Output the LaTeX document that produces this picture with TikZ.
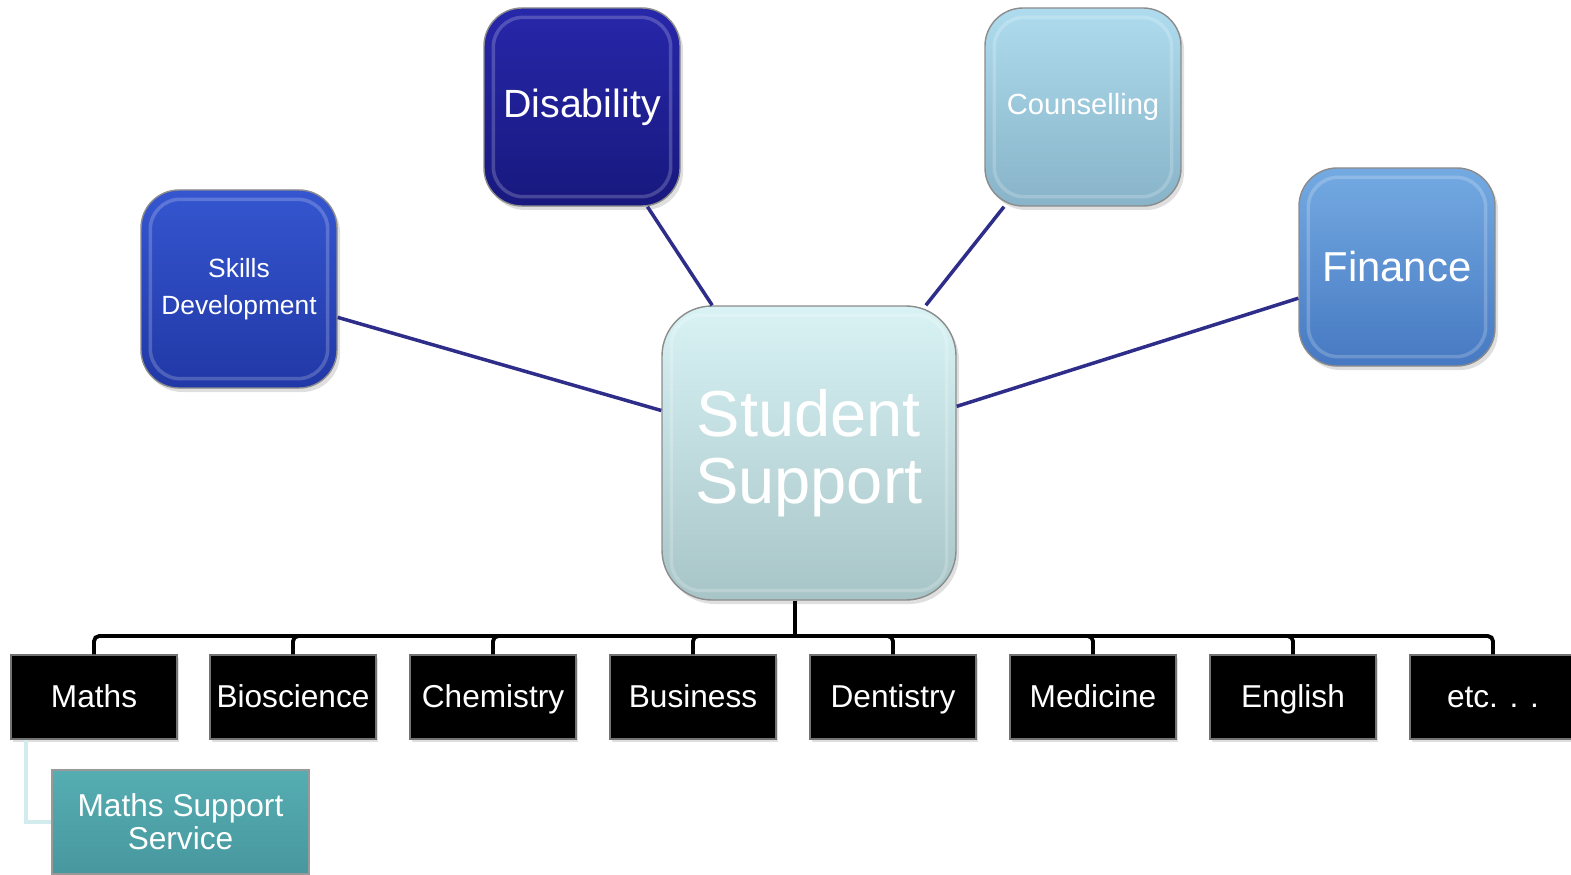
\documentclass[tikz,border=0pt]{standalone}
\usepackage{fontspec}
\setmainfont{Liberation Sans}
\usetikzlibrary{shadows}

\definecolor{linknavy}{HTML}{2E2E8A}
\definecolor{skillstop}{HTML}{3556D0}
\definecolor{skillsbot}{HTML}{2138A6}
\definecolor{distop}{HTML}{2727AA}
\definecolor{disbot}{HTML}{18187E}
\definecolor{countop}{HTML}{AEDCEE}
\definecolor{counbot}{HTML}{88B3C8}
\definecolor{fintop}{HTML}{74AAE2}
\definecolor{finbot}{HTML}{4679C2}
\definecolor{sstop}{HTML}{D9F3F5}
\definecolor{ssbot}{HTML}{A7C4C6}
\definecolor{msstop}{HTML}{55ADB2}
\definecolor{mssbot}{HTML}{47989E}
\definecolor{sublinkcol}{HTML}{D2ECEE}

\begin{document}
\begin{tikzpicture}[
    service/.style={rectangle, rounded corners=0.38cm, minimum width=1.96cm, minimum height=1.98cm, align=center, text=white, draw=black!45, line width=0.4pt, drop shadow={opacity=0.25, shadow xshift=0.03cm, shadow yshift=-0.04cm}},
    dept/.style={rectangle, fill=black, draw=black!55, minimum width=1.66cm, minimum height=0.84cm, inner xsep=1pt, text height=0.72em, text depth=0.15em, text=white, font=\fontsize{9}{10}\selectfont, drop shadow={opacity=0.25, shadow xshift=0.02cm, shadow yshift=-0.03cm}},
    link/.style={draw=linknavy, line width=1pt},
    tree/.style={draw=black, line width=1.1pt, rounded corners=1.5pt},
    sublink/.style={draw=sublinkcol, line width=1.1pt},
    gloss/.style={draw=white, opacity=0.2, line width=1pt}
]
\useasboundingbox (0,0) rectangle (15.71,8.74);

% Centre
\node[service, minimum width=2.94cm, minimum height=2.94cm, rounded corners=0.5cm, top color=sstop, bottom color=ssbot, font=\fontsize{18.5}{19}\selectfont] (ss) at (8.09,4.21) {Student\\Support};

% Services
\node[service, top color=skillstop, bottom color=skillsbot, font=\fontsize{7.5}{10.5}\selectfont] (skills) at (2.39,5.85) {Skills\\Development};
\node[service, top color=distop, bottom color=disbot, font=\fontsize{11.2}{13}\selectfont] (disab) at (5.82,7.67) {Disability};
\node[service, top color=countop, bottom color=counbot, font=\fontsize{8.3}{10}\selectfont] (couns) at (10.83,7.67) {Counselling};
\node[service, top color=fintop, bottom color=finbot, font=\fontsize{11.9}{14}\selectfont] (finance) at (13.97,6.07) {Finance};

% bevel highlight
\foreach \b in {ss,skills,disab,couns,finance}
    \draw[gloss, rounded corners=0.3cm] ([shift={(0.1,-0.1)}]\b.north west) rectangle ([shift={(-0.1,0.1)}]\b.south east);

\draw[link] (skills) -- (ss);
\draw[link] (disab) -- (ss);
\draw[link] (couns) -- (ss);
\draw[link] (finance) -- (ss);

% Departments
\node[dept] (maths) at (0.94,1.77) {Maths};
\node[dept] (bio) at (2.93,1.77) {Bioscience};
\node[dept] (chem) at (4.93,1.77) {Chemistry};
\node[dept] (bus) at (6.93,1.77) {Business};
\node[dept] (dent) at (8.93,1.77) {Dentistry};
\node[dept] (med) at (10.93,1.77) {Medicine};
\node[dept] (eng) at (12.93,1.77) {English};
\node[dept] (etc) at (14.93,1.77) {etc. . .};

\coordinate (hub) at (7.95,2.38);
\draw[tree] (ss.south -| hub) -- (hub);
\foreach \n in {maths,bio,chem,bus,dent,med,eng,etc}
    \draw[tree] (hub) -| (\n.north);

% Maths support
\node[rectangle, top color=msstop, bottom color=mssbot, draw=black!40, minimum width=2.57cm, minimum height=1.04cm, align=center, text=white, font=\fontsize{9}{9.3}\selectfont] (mss) at (1.805,0.52) {Maths Support\\Service};
\draw[sublink] ([xshift=0.16cm]maths.south west) |- (mss.west);
\end{tikzpicture}
\end{document}
